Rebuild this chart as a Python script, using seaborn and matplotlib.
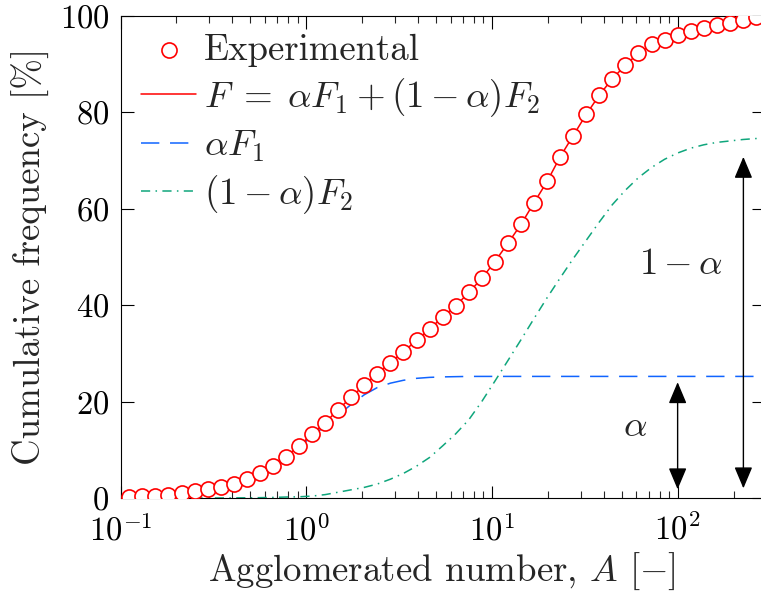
import numpy as np
import pandas as pd
import matplotlib
matplotlib.use("Agg")
import matplotlib.pyplot as plt
import seaborn as sns

# ---------------- data ----------------
A_exp = [0.1115, 0.1311, 0.1542, 0.1813, 0.2131, 0.2506, 0.2946, 0.3464, 0.4073, 0.4789,
         0.5630, 0.6620, 0.7783, 0.9147, 1.0755, 1.2643, 1.4866, 1.7478, 2.0551, 2.4163,
         2.8410, 3.3403, 3.9264, 4.6157, 5.4276, 6.3810, 7.5024, 8.8215, 10.37, 12.20,
         14.34, 16.86, 19.82, 23.30, 27.39, 32.20, 37.87, 44.52, 52.35, 61.54,
         72.36, 85.07, 100.0, 117.6, 138.2, 162.5, 191.1, 224.7, 264.1]
F_exp = [0.15, 0.35, 0.48, 0.72, 1.03, 1.35, 1.8, 2.35, 3.0, 3.95,
         5.2, 6.7, 8.6, 10.75, 13.25, 15.6, 18.3, 20.9, 23.4, 25.8,
         28.0, 30.35, 32.65, 35.0, 37.5, 39.8, 42.6, 45.5, 49.0, 52.8,
         56.7, 61.2, 65.6, 70.7, 75.1, 79.5, 83.5, 86.9, 89.7, 92.2,
         94.0, 95.0, 96.0, 96.7, 97.4, 98.0, 98.5, 99.1, 99.6]

A_model = A_exp + [290.0]
F_model = F_exp + [99.7]
aF1_model = [0.15, 0.35, 0.48, 0.72, 1.03, 1.35, 1.8, 2.34, 2.98, 3.9,
             5.1, 6.6, 8.4, 10.5, 12.85, 14.9, 17.2, 19.4, 21.4, 22.9,
             23.8, 24.4, 24.8, 25.0, 25.1, 25.15, 25.2, 25.2, 25.2, 25.2,
             25.2, 25.2, 25.2, 25.2, 25.2, 25.2, 25.2, 25.2, 25.2, 25.2,
             25.2, 25.2, 25.2, 25.2, 25.2, 25.2, 25.2, 25.2, 25.2, 25.2]
bF2_model = [0.0, 0.0, 0.0, 0.0, 0.0, 0.0, 0.0, 0.01, 0.02, 0.04,
             0.07, 0.12, 0.2, 0.25, 0.4, 0.7, 1.2, 1.7, 2.2, 2.9,
             3.9, 5.1, 6.6, 8.4, 10.8, 13.3, 16.2, 20.0, 24.2, 28.5,
             32.8, 37.2, 41.5, 45.6, 49.6, 53.4, 57.2, 60.8, 63.8, 66.4,
             68.5, 70.2, 71.5, 72.5, 73.2, 73.7, 74.0, 74.3, 74.5, 74.5]

labels = ["Experimental", r"$F\;=\;\alpha F_1 + (1-\alpha)F_2$", r"$\alpha F_1$", r"$(1-\alpha)F_2$"]
x_ticks = [0.1, 1, 10, 100]
y_ticks = [0, 20, 40, 60, 80, 100]

# ---------------- style ----------------
sns.set_theme(style="ticks")
plt.rcParams.update({
    "font.family": ["cmr10", "DejaVu Serif"],
    "mathtext.fontset": "cm",
    "axes.formatter.use_mathtext": True,
    "axes.unicode_minus": True,
    "axes.linewidth": 0.8,
    "axes.edgecolor": "black",
})

RED = "#FF0000"
BLUE = "#1064FF"
GREEN = "#0FA67C"
FS_BIG = 26.5
FS_TICK = 23.5

fig = plt.figure(figsize=(7.61, 5.96), dpi=100)
W, H = 761.0, 596.0
left_px, right_px, top_px, bottom_px = 120.5, 763.5, 15.5, 498.0
ax = fig.add_axes([left_px / W, 1 - bottom_px / H, (right_px - left_px) / W, (bottom_px - top_px) / H])

df_exp = pd.DataFrame({"A": A_exp, "F": F_exp})
df_mod = pd.DataFrame({"A": A_model, "F": F_model, "aF1": aF1_model, "bF2": bF2_model})

sns.lineplot(data=df_mod, x="A", y="aF1", ax=ax, color=BLUE, lw=1.1,
             linestyle=(0, (12, 7)), estimator=None, sort=False, label=labels[2], zorder=2)
sns.lineplot(data=df_mod, x="A", y="bF2", ax=ax, color=GREEN, lw=1.1,
             linestyle=(0, (6, 3.5, 1, 3.5)), estimator=None, sort=False, label=labels[3], zorder=2)
sns.lineplot(data=df_mod, x="A", y="F", ax=ax, color=RED, lw=1.1,
             estimator=None, sort=False, label=labels[1], zorder=3)
sns.scatterplot(data=df_exp, x="A", y="F", ax=ax, marker="o", s=118,
                facecolor="white", edgecolor=RED, linewidth=1.2, label=labels[0], zorder=4)

ax.set_xscale("log")
ax.set_xlim(0.1, 290)
ax.set_ylim(0, 100)
ax.set_xticks(x_ticks)
ax.set_yticks(y_ticks)
ax.xaxis.set_minor_locator(matplotlib.ticker.LogLocator(base=10, subs=np.arange(2, 10), numticks=20))
ax.xaxis.set_minor_formatter(matplotlib.ticker.NullFormatter())
ax.tick_params(axis="both", which="major", direction="in", length=9, width=0.8,
               top=True, right=True, labelsize=FS_TICK, colors="black")
ax.tick_params(axis="x", which="major", pad=11)
ax.tick_params(axis="y", which="major", pad=8)
ax.tick_params(axis="x", which="minor", direction="in", length=5, width=0.8, top=True)
ax.tick_params(axis="y", which="minor", left=False, right=False)
for s in ax.spines.values():
    s.set_color("black")
    s.set_linewidth(0.8)

ax.set_xlabel(r"Agglomerated number, $A$ [$-$]", fontsize=FS_BIG, labelpad=3)
ax.set_ylabel("Cumulative frequency [%]", fontsize=FS_BIG, labelpad=7)

# annotation arrows
arrow_kw = dict(arrowstyle="<|-|>,head_length=0.95,head_width=0.4", color="black",
                lw=1.0, shrinkA=0, shrinkB=0, mutation_scale=14)
ax.annotate("", xy=(100, 24.0), xytext=(100, 1.8), arrowprops=arrow_kw)
ax.annotate("", xy=(226, 70.7), xytext=(226, 2.0), arrowprops=arrow_kw)
ax.text(59, 14.8, r"$\alpha$", fontsize=FS_BIG, ha="center", va="center")
ax.text(104, 48.5, r"$1-\alpha$", fontsize=FS_BIG, ha="center", va="center")

# legend in reference order
handles, labs = ax.get_legend_handles_labels()
order = [labs.index(l) for l in labels]
leg = ax.legend([handles[i] for i in order], [labs[i] for i in order],
                loc="upper left", bbox_to_anchor=(0.032, 0.963), frameon=False,
                fontsize=FS_BIG, handlelength=1.5, handletextpad=0.2,
                labelspacing=0.26, borderpad=0, borderaxespad=0)

fig.savefig("out.png", dpi=100)
